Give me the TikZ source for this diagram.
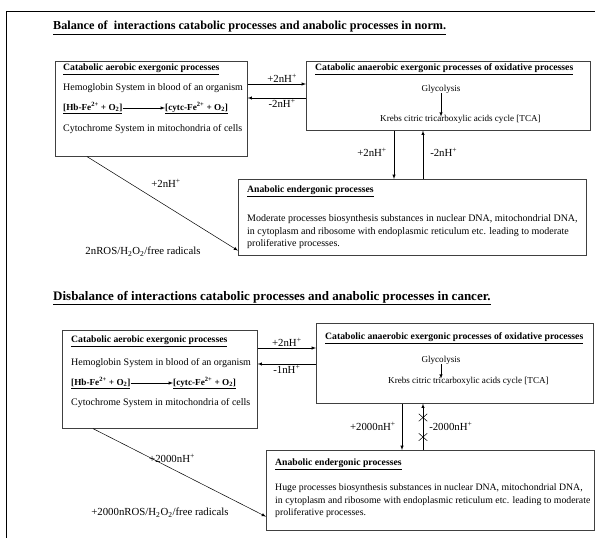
\documentclass[tikz,border=0pt]{standalone}
\usepackage{fontspec}
\setmainfont{Liberation Serif}
\usetikzlibrary{shapes.misc}

\tikzset{
  procbox/.style={draw=black!75, line width=0.6pt, inner sep=0pt, anchor=north west},
  boxhead/.style={anchor=west, inner sep=0pt, font=\fontsize{9.7}{11}\selectfont\bfseries},
  boxtext/.style={anchor=west, inner sep=0pt, font=\fontsize{10}{11}\selectfont},
  formula/.style={anchor=west, inner sep=0pt, font=\fontsize{9.2}{11}\selectfont\bfseries},
  pathtext/.style={inner sep=0pt, font=\fontsize{9.1}{11}\selectfont},
  boxpara/.style={anchor=west, inner sep=0pt, align=left, font=\fontsize{#1}{12.5}\selectfont},
  flux/.style={inner sep=1pt, font=\fontsize{10.8}{12}\selectfont},
  flow/.style={-latex, line width=0.5pt},
  blocked/.style={cross out, draw, line width=0.5pt, minimum width=8pt, minimum height=7pt, inner sep=0pt},
}

\begin{document}
\begin{tikzpicture}[x=1pt, y=-1pt]
    \useasboundingbox (0,0) rectangle (595,538);
    \draw[line width=0.8pt] (6,538) -- (6,11) -- (595,11);

    % norm
    \node (title1) [anchor=west, inner sep=0pt, font=\fontsize{12.2}{14}\selectfont\bfseries] at (53,28)
        {\underline{Balance of\ \ interactions catabolic processes and anabolic processes in norm.}};

    \node (aer1) [procbox, minimum width=192pt, minimum height=95pt] at (55,61) {};
    \node (head1a) [boxhead] at (63,69) {\underline{Catabolic aerobic exergonic processes}};
    \node (hemo1) [boxtext] at (63,88) {Hemoglobin System in blood of an organism};
    \node (hb1) [formula] at (63,108) {\underline{[Hb-Fe\textsuperscript{2+} + O\textsubscript{2}]}};
    \node (cytc1) [formula] at (165,108) {\underline{[cytc-Fe\textsuperscript{2+} + O\textsubscript{2}]}};
    \node (cyto1) [boxtext] at (63,129) {Cytochrome System in mitochondria of cells};

    \node (oxi1) [procbox, minimum width=284pt, minimum height=69pt] at (306,61) {};
    \node (head1b) [boxhead] at (315,69) {\underline{Catabolic anaerobic exergonic processes of oxidative processes}};
    \node (gly1) [pathtext] at (441,89) {Glycolysis};
    \node (krebs1) [pathtext, anchor=west] at (380,119) {Krebs citric tricarboxylic acids cycle [TCA]};

    \node (ana1) [procbox, minimum width=348pt, minimum height=76pt] at (238,179) {};
    \node (head1c) [boxhead] at (247,191) {\underline{Anabolic endergonic processes}};
    \node (body1) [boxpara=10] at (247,232)
        {Moderate processes biosynthesis substances in nuclear DNA, mitochondrial DNA,\\
         in cytoplasm and ribosome with endoplasmic reticulum etc. leading to moderate\\
         proliferative processes.};

    \draw[flow] (hb1.east) -- (cytc1.west);
    \draw[flow, shorten >=-2pt] (gly1.south) -- (gly1.south |- krebs1.north);

    \draw[flow] ([yshift=-23pt]aer1.north east) coordinate (fwd1) -- (fwd1 -| oxi1.west)
        node[flux, pos=0.59, above] {+2nH\textsuperscript{+}};
    \draw[flow] ([yshift=-37pt]aer1.north east -| oxi1.west) coordinate (back1) -- (back1 -| aer1.east)
        node[flux, pos=0.41, below] {-2nH\textsuperscript{+}};
    \coordinate (down1) at ([xshift=88pt]oxi1.south west);
    \coordinate (up1) at ([xshift=117pt]oxi1.south west);
    \draw[flow] (down1) -- (down1 |- ana1.north)
        node[flux, pos=0.45, left=6pt] {+2nH\textsuperscript{+}};
    \draw[flow] (up1 |- ana1.north) -- (up1)
        node[flux, pos=0.55, right=6pt] {-2nH\textsuperscript{+}};
    \draw[flow] ([xshift=32pt]aer1.south west) -- ([yshift=5pt]ana1.south west);
    \node (gain1) [flux] at (166,183) {+2nH\textsuperscript{+}};
    \node (ros1) [flux] at (143,252) {2nROS/H\textsubscript{2}O\textsubscript{2}/free radicals};

    % cancer
    \node (title2) [anchor=west, inner sep=0pt, font=\fontsize{13}{15}\selectfont\bfseries] at (53,298)
        {\underline{Disbalance of interactions catabolic processes and anabolic processes in cancer.}};

    \node (aer2) [procbox, minimum width=195pt, minimum height=98pt] at (62,330) {};
    \node (head2a) [boxhead] at (71,341) {\underline{Catabolic aerobic exergonic processes}};
    \node (hemo2) [boxtext] at (71,363) {Hemoglobin System in blood of an organism};
    \node (hb2) [formula] at (71,383) {\underline{[Hb-Fe\textsuperscript{2+} + O\textsubscript{2}]}};
    \node (cytc2) [formula] at (173,383) {\underline{[cytc-Fe\textsuperscript{2+} + O\textsubscript{2}]}};
    \node (cyto2) [boxtext] at (71,403) {Cytochrome System in mitochondria of cells};

    \node (oxi2) [procbox, minimum width=277pt, minimum height=80pt] at (316,323) {};
    \node (head2b) [boxhead] at (325,338) {\underline{Catabolic anaerobic exergonic processes of oxidative processes}};
    \node (gly2) [pathtext] at (441,360) {Glycolysis};
    \node (krebs2) [pathtext, anchor=west] at (388,381) {Krebs citric tricarboxylic acids cycle [TCA]};

    \node (ana2) [procbox, minimum width=328pt, minimum height=80pt] at (266,450) {};
    \node (head2c) [boxhead] at (275,464) {\underline{Anabolic endergonic processes}};
    \node (body2) [boxpara=9.8] at (275,501)
        {Huge processes biosynthesis substances in nuclear DNA, mitochondrial DNA,\\
         in cytoplasm and ribosome with endoplasmic reticulum etc. leading to moderate\\
         proliferative processes.};

    \draw[flow] (hb2.east) -- (cytc2.west);
    \draw[flow, shorten >=-2pt] (gly2.south) -- (gly2.south |- krebs2.north);

    \draw[flow] ([yshift=-18pt]aer2.north east) coordinate (fwd2) -- (fwd2 -| oxi2.west)
        node[flux, pos=0.5, above] {+2nH\textsuperscript{+}};
    \draw[flow] ([yshift=-34pt]aer2.north east -| oxi2.west) coordinate (back2) -- (back2 -| aer2.east)
        node[flux, pos=0.5, below] {-1nH\textsuperscript{+}};
    \coordinate (down2) at ([xshift=86pt]oxi2.south west);
    \coordinate (up2) at ([xshift=107pt]oxi2.south west);
    \draw[flow] (down2) -- (down2 |- ana2.north)
        node[flux, pos=0.5, left=5pt] {+2000nH\textsuperscript{+}};
    \draw[flow] (up2 |- ana2.north) -- (up2)
        node[blocked, pos=0.28] (cut2a) {}
        node[blocked, pos=0.70] (cut2b) {}
        node[flux, pos=0.5, right=5pt] {-2000nH\textsuperscript{+}};
    \draw[flow] ([xshift=31pt]aer2.south west) -- ([yshift=14pt]ana2.south west);
    \node (gain2) [flux] at (172,458) {+2000nH\textsuperscript{+}};
    \node (ros2) [flux] at (160,513) {+2000nROS/H\textsubscript{2}O\textsubscript{2}/free radicals};
\end{tikzpicture}
\end{document}
